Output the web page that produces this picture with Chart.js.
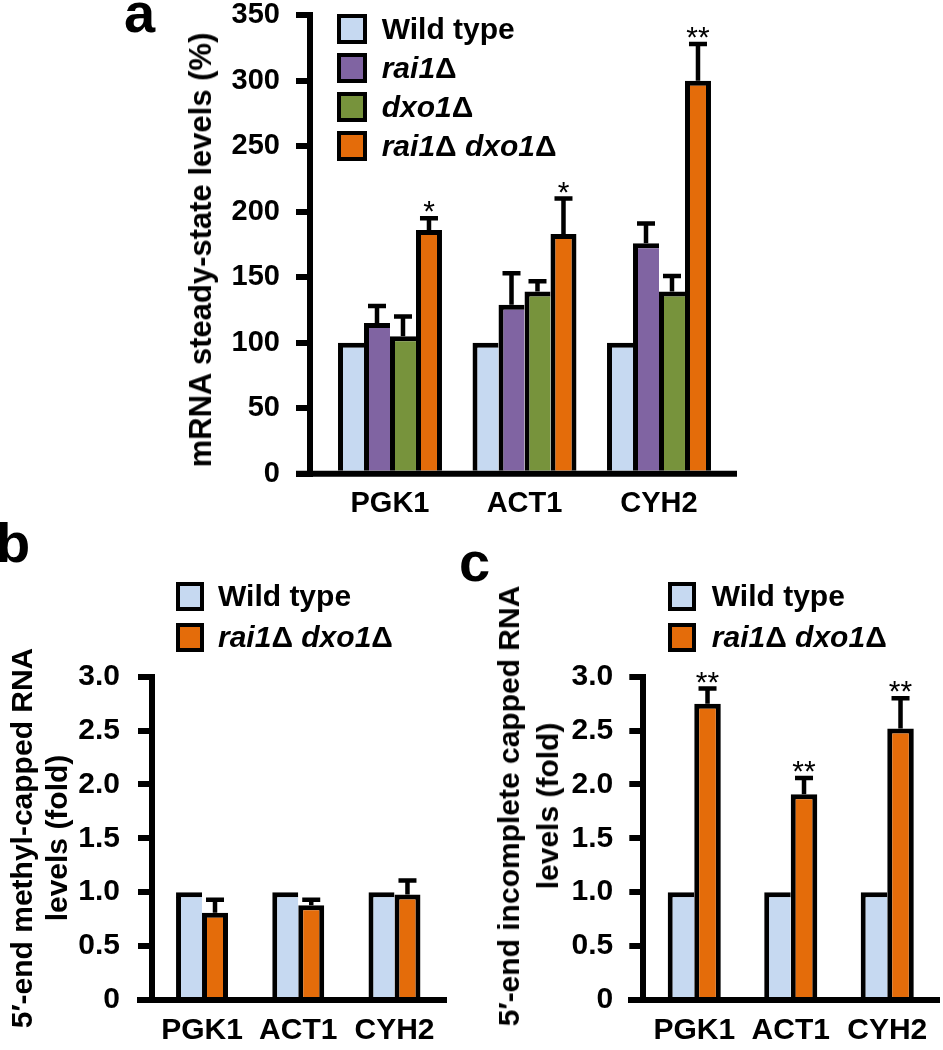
<!DOCTYPE html>
<html lang="en">
<head>
<meta charset="UTF-8">
<title>rai1Δ dxo1Δ mRNA levels</title>
<script src="https://cdn.jsdelivr.net/npm/chart.js"></script>
<style>
* {
  box-sizing: border-box;
}

body {
  margin: 0;
  background: #fff;
  color: #000;
  font-family: 'Liberation Sans', Arial, Helvetica, sans-serif;
}

#page {
  position: relative;
  width: 943px;
  height: 1050px;
  overflow: hidden;
}

canvas {
  position: absolute;
}

.letter {
  position: absolute;
  font-size: 56px;
  font-weight: bold;
  line-height: 1;
}

.ytitle {
  position: absolute;
  font-size: 30px;
  font-weight: bold;
  white-space: nowrap;
  text-align: center;
  transform: translate(-50%, -50%) rotate(-90deg);
}

.legend {
  position: absolute;
  font-size: 30px;
  font-weight: bold;
  white-space: nowrap;
}

.legend .row {
  display: flex;
  align-items: center;
}

.legend .box {
  flex: none;
  border: 4px solid #000;
}

.legend .txt {
  line-height: 30px;
}
</style>
</head>
<body>

<div id="page">
  <canvas id="chartA" width="943" height="540" style="left:0;top:0"></canvas>
  <canvas id="chartB" width="470" height="530" style="left:0;top:520px"></canvas>
  <canvas id="chartC" width="473" height="530" style="left:470px;top:520px"></canvas>

  <div class="letter" style="left:124px;top:-15px">a</div>
  <div class="letter" style="left:-4px;top:515px">b</div>
  <div class="letter" style="left:459px;top:534px">c</div>

  <div class="ytitle" style="left:201px;top:250px;font-size:31px">mRNA steady-state levels (%)</div>
  <div class="ytitle" style="left:39px;top:838px;line-height:35px">5′-end methyl-capped RNA<br>levels (fold)</div>
  <div class="ytitle" style="left:528px;top:806px;line-height:39px">5′-end incomplete capped RNA<br>levels (fold)</div>
</div>

<script>
const categories = ['PGK1', 'ACT1', 'CYH2'];

// a: mRNA steady-state levels (%)
const seriesA = ['Wild type', 'rai1Δ', 'dxo1Δ', 'rai1Δ dxo1Δ'];
const wildTypeA = [100, 100, 100];
const rai1A = [115, 129, 176];
const rai1ErrA = [13, 24, 15];
const dxo1A = [105, 139, 139];
const dxo1ErrA = [15, 8, 12];
const doubleA = [186, 183, 300];
const doubleErrA = [9, 27, 28];
const starsA = ['*', '*', '**'];
const yTicksA = [0, 50, 100, 150, 200, 250, 300, 350];
const yLabelsA = ['0', '50', '100', '150', '200', '250', '300', '350'];

// b: 5'-end methyl-capped RNA (fold)
const seriesB = ['Wild type', 'rai1Δ dxo1Δ'];
const wildTypeB = [1, 1, 1];
const doubleB = [0.81, 0.88, 0.98];
const doubleErrB = [0.12, 0.05, 0.13];

// c: 5'-end incomplete capped RNA (fold)
const seriesC = ['Wild type', 'rai1Δ dxo1Δ'];
const wildTypeC = [1, 1, 1];
const doubleC = [2.75, 1.91, 2.52];
const doubleErrC = [0.14, 0.15, 0.28];
const starsC = ['**', '**', '**'];

const yTicksBC = [0, 0.5, 1, 1.5, 2, 2.5, 3];
const yLabelsBC = ['0', '0.5', '1.0', '1.5', '2.0', '2.5', '3.0'];

const WT_COLOR = '#c6d9f1';
const RAI1_COLOR = '#8064a2';
const DXO1_COLOR = '#77933c';
const DOUBLE_COLOR = '#e46c0a';

const FONT = "'Liberation Sans', Arial, Helvetica, sans-serif";

// error bars, stars and the long baseline; also moves the y axis a bit left of the bars
const errorBarPlugin = {
  id: 'errorBars',
  afterLayout(chart, args, opts) {
    const y = chart.scales.y;
    const dx = chart.chartArea.left - opts.axisX;
    y.left -= dx;
    y.right -= dx;
  },
  afterDatasetsDraw(chart, args, opts) {
    const ctx = chart.ctx;
    const y = chart.scales.y;
    ctx.save();
    ctx.strokeStyle = '#000';
    ctx.fillStyle = '#000';
    ctx.lineWidth = 4.5;
    chart.data.datasets.forEach((ds, di) => {
      if (!ds.errors) return;
      chart.getDatasetMeta(di).data.forEach((bar, i) => {
        const top = y.getPixelForValue(ds.data[i] + ds.errors[i]);
        ctx.beginPath();
        ctx.moveTo(bar.x, bar.y);
        ctx.lineTo(bar.x, top);
        ctx.moveTo(bar.x - 9, top);
        ctx.lineTo(bar.x + 9, top);
        ctx.stroke();
        if (ds.stars && ds.stars[i]) {
          ctx.font = '30px ' + FONT;
          ctx.textAlign = 'center';
          ctx.textBaseline = 'alphabetic';
          ctx.fillText(ds.stars[i], bar.x, top + 3);
        }
      });
    });
    const y0 = y.getPixelForValue(0);
    ctx.lineWidth = 6;
    ctx.beginPath();
    ctx.moveTo(opts.lineLeft, y0);
    ctx.lineTo(opts.lineRight, y0);
    ctx.stroke();
    ctx.restore();
  }
};

function barSet(label, data, color, errors, stars, last) {
  return {
    label: label,
    data: data,
    errors: errors,
    stars: stars,
    backgroundColor: color,
    borderColor: '#000',
    borderWidth: { top: 5, left: 5, right: last ? 5 : 0, bottom: 0 },
    barPercentage: 1,
    inflateAmount: 0
  };
}

function makeChart(id, cfg) {
  const canvas = document.getElementById(id);
  const area = cfg.area;
  return new Chart(canvas.getContext('2d'), {
    type: 'bar',
    data: {
      labels: categories,
      datasets: cfg.datasets.map(d => Object.assign(d, { categoryPercentage: cfg.catPct }))
    },
    options: {
      responsive: false,
      animation: false,
      events: [],
      layout: {
        padding: { left: 0, top: area.top, right: canvas.width - area.right, bottom: 0 }
      },
      plugins: {
        legend: { display: false },
        tooltip: { enabled: false },
        errorBars: { axisX: cfg.axisX, lineLeft: cfg.lineLeft, lineRight: cfg.lineRight }
      },
      scales: {
        x: {
          grid: { display: false, drawTicks: false },
          border: { display: false },
          ticks: {
            color: '#000',
            padding: cfg.xPad,
            maxRotation: 0,
            autoSkip: false,
            font: { family: FONT, size: cfg.xFont, weight: 'bold' }
          },
          afterFit: s => {
            s.height = canvas.height - area.bottom;
            s.paddingLeft = 0;
            s.paddingRight = 0;
          }
        },
        y: {
          min: 0,
          max: cfg.yTicks[cfg.yTicks.length - 1],
          afterBuildTicks: s => { s.ticks = cfg.yTicks.map(v => ({ value: v })); },
          ticks: {
            color: '#000',
            padding: cfg.yPad,
            font: { family: FONT, size: cfg.yFont, weight: 'bold' },
            callback: (v, i) => cfg.yLabels[i]
          },
          grid: {
            drawOnChartArea: false,
            drawTicks: true,
            tickLength: 14,
            tickWidth: 6,
            tickColor: '#000',
            lineWidth: 6,
            color: '#000'
          },
          border: { display: true, color: '#000', width: 6 },
          afterFit: s => {
            s.width = area.left;
            s.paddingTop = 0;
            s.paddingBottom = 0;
          }
        }
      }
    },
    plugins: [errorBarPlugin]
  });
}

function makeLegend(names, colors, pos) {
  const div = document.createElement('div');
  div.className = 'legend';
  div.style.left = pos.left + 'px';
  div.style.top = pos.top + 'px';
  names.forEach((name, i) => {
    const row = document.createElement('div');
    row.className = 'row';
    row.style.height = pos.rowH + 'px';
    const box = document.createElement('div');
    box.className = 'box';
    box.style.width = pos.boxW + 'px';
    box.style.height = pos.boxH + 'px';
    box.style.background = colors[i];
    const txt = document.createElement('span');
    txt.className = 'txt';
    txt.style.marginLeft = pos.gap + 'px';
    txt.innerHTML = name.replace(/([a-z]+1)Δ/g, '<i>$1</i>Δ');
    row.appendChild(box);
    row.appendChild(txt);
    div.appendChild(row);
  });
  document.getElementById('page').appendChild(div);
}

makeChart('chartA', {
  datasets: [
    barSet(seriesA[0], wildTypeA, WT_COLOR, null, null, false),
    barSet(seriesA[1], rai1A, RAI1_COLOR, rai1ErrA, null, false),
    barSet(seriesA[2], dxo1A, DXO1_COLOR, dxo1ErrA, null, false),
    barSet(seriesA[3], doubleA, DOUBLE_COLOR, doubleErrA, starsA, true)
  ],
  catPct: 0.773,
  area: { left: 322.75, right: 726.25, top: 15.2, bottom: 473.7 },
  axisX: 310,
  lineLeft: 296,
  lineRight: 737,
  yTicks: yTicksA,
  yLabels: yLabelsA,
  yFont: 29,
  yPad: 16,
  xFont: 29,
  xPad: 13
});

makeChart('chartB', {
  datasets: [
    barSet(seriesB[0], wildTypeB, WT_COLOR, null, null, false),
    barSet(seriesB[1], doubleB, DOUBLE_COLOR, doubleErrB, null, true)
  ],
  catPct: 0.54,
  area: { left: 153.9, right: 442.6, top: 156.7, bottom: 480 },
  axisX: 152,
  lineLeft: 137,
  lineRight: 447,
  yTicks: yTicksBC,
  yLabels: yLabelsBC,
  yFont: 30,
  yPad: 18,
  xFont: 30,
  xPad: 13
});

makeChart('chartC', {
  datasets: [
    barSet(seriesC[0], wildTypeC, WT_COLOR, null, null, false),
    barSet(seriesC[1], doubleC, DOUBLE_COLOR, doubleErrC, starsC, true)
  ],
  catPct: 0.55,
  area: { left: 176, right: 465.5, top: 156.7, bottom: 480 },
  axisX: 173.3,
  lineLeft: 158,
  lineRight: 470,
  yTicks: yTicksBC,
  yLabels: yLabelsBC,
  yFont: 30,
  yPad: 16,
  xFont: 30,
  xPad: 13
});

makeLegend(seriesA, [WT_COLOR, RAI1_COLOR, DXO1_COLOR, DOUBLE_COLOR],
  { left: 336.7, top: 9.5, rowH: 38.9, boxW: 30, boxH: 30, gap: 15 });
makeLegend(seriesB, [WT_COLOR, DOUBLE_COLOR],
  { left: 176, top: 575.5, rowH: 41.3, boxW: 28, boxH: 29, gap: 14 });
makeLegend(seriesC, [WT_COLOR, DOUBLE_COLOR],
  { left: 668.3, top: 575.5, rowH: 41.3, boxW: 28, boxH: 29, gap: 15.5 });
</script>
</body>
</html>
